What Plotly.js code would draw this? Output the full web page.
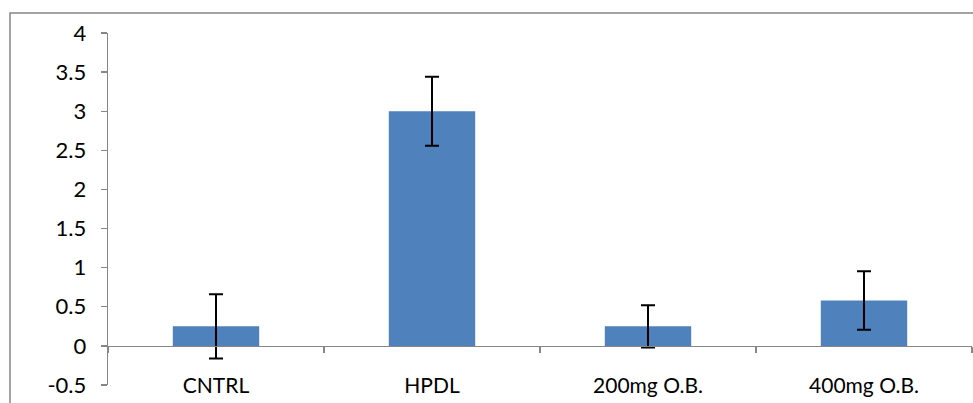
<!DOCTYPE html>
<html>
<head>
<meta charset="utf-8">
<script src="https://cdn.plot.ly/plotly-3.0.1.min.js"></script>
<style>
html,body{margin:0;padding:0;background:#fff;}
#chart{width:973px;height:403px;}
</style>
</head>
<body>
<div id="chart"></div>
<script>
const categories = ["CNTRL", "HPDL", "200mg O.B.", "400mg O.B."];
const values = [0.25, 3.0, 0.25, 0.58];
const errors = [0.41, 0.44, 0.27, 0.375];
const yTickVals = [-0.5, 0, 0.5, 1, 1.5, 2, 2.5, 3, 3.5, 4];
const yTickText = ["-0.5", "0", "0.5", "1", "1.5", "2", "2.5", "3", "3.5", "4"];

const axisGray = "#868686";
const fontFam = "Lato, 'Open Sans', sans-serif";

const trace = {
  type: "bar",
  x: categories,
  y: values,
  width: 0.4,
  marker: {color: "#4F81BD"},
  error_y: {type: "data", array: errors, visible: true, color: "#000", thickness: 2, width: 7},
  hoverinfo: "none"
};
// invisible trace carrying the category labels on the lower axis
const labelTrace = {
  type: "scatter", mode: "markers", x: categories, y: values,
  xaxis: "x2", yaxis: "y", marker: {opacity: 0}, hoverinfo: "none", showlegend: false
};

const H = 403, T = 33;
const plotH = H - T;
const yDomLow = (H - 385) / plotH;
const layout = {
  width: 973, height: 403,
  margin: {l: 108, r: 1, t: T, b: 0},
  paper_bgcolor: "#fff", plot_bgcolor: "rgba(0,0,0,0)",
  showlegend: false,
  font: {family: fontFam, size: 21, color: "#000"},
  xaxis: {
    type: "category", range: [-0.5, 3.5],
    anchor: "free", position: (H - 346) / plotH,
    showline: true, linecolor: axisGray, linewidth: 1.3,
    ticks: "outside", tickson: "boundaries", ticklen: 6, tickcolor: axisGray, tickwidth: 1.3,
    showticklabels: false, showgrid: false, zeroline: false, fixedrange: true
  },
  xaxis2: {
    type: "category", range: [-0.5, 3.5], overlaying: "x",
    anchor: "free", position: (H - 371) / plotH,
    showline: false, ticks: "", showgrid: false, zeroline: false,
    tickfont: {family: fontFam, size: 21, color: "#000"}
  },
  yaxis: {
    domain: [yDomLow, 1],
    range: [-0.5, 4],
    tickvals: yTickVals, ticktext: yTickText,
    showline: true, linecolor: axisGray, linewidth: 1.3,
    ticks: "outside", ticklen: 6, tickcolor: axisGray, tickwidth: 1.3,
    ticklabelstandoff: 10,
    showgrid: false, zeroline: false,
    tickfont: {family: fontFam, size: 22, color: "#000"}
  },
  shapes: [{
    type: "rect", xref: "paper", yref: "paper",
    x0: (10 - 108) / 864, x1: 1.05, y0: -0.1, y1: (H - 13) / plotH,
    line: {color: axisGray, width: 1.5}, fillcolor: "rgba(0,0,0,0)", layer: "below"
  }]
};

Plotly.newPlot("chart", [trace, labelTrace], layout, {displayModeBar: false, staticPlot: true});
</script>
</body>
</html>
